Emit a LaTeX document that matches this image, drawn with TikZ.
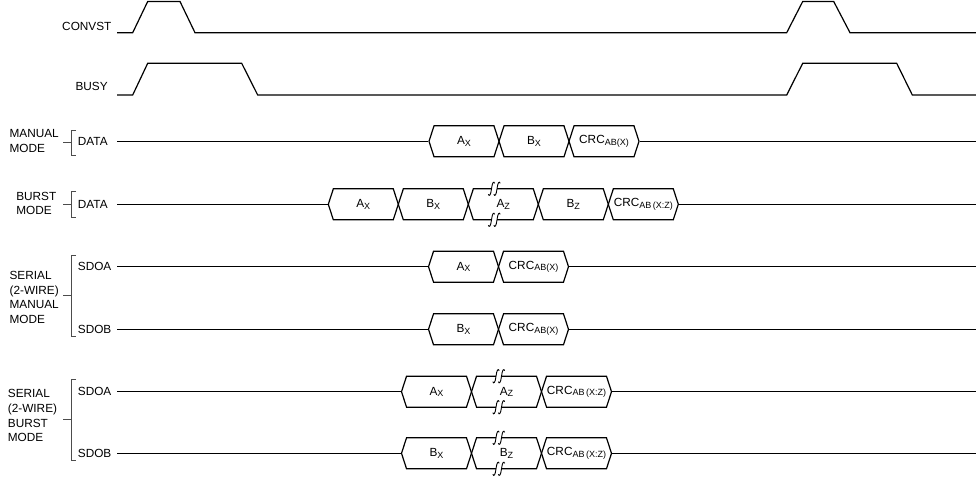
\documentclass[tikz,border=0pt]{standalone}
\usepackage{fontspec}
\setmainfont{Liberation Sans}
\usetikzlibrary{shapes.symbols}
\newcommand{\sx}[1]{\raisebox{-1.5pt}{\fontsize{9}{9}\selectfont #1}}

\begin{document}
\begin{tikzpicture}[x=1pt, y=-1pt, line width=1.2pt,
  every node/.style={font=\fontsize{11.8}{14.8}\selectfont, inner sep=0pt},
  seg/.style={signal, signal to=east and west, signal pointer angle=144, draw, minimum height=31pt, minimum width=70pt},
  lbl/.style={anchor=east},
  sig/.style={anchor=west},
  grp/.style={align=left, anchor=west},
  brace/.style={draw=black!70, line width=1pt},
  brk/.pic={
    \fill[white] (0,-2) rectangle (5.5,2);
    \foreach \d in {0,5.5}
      \draw[line width=0.9pt] (\d-3.2,5.5) .. controls (\d-2.2,8) and (\d-0.8,6.5) .. (\d,0) .. controls (\d+0.8,-6.5) and (\d+2.2,-8) .. (\d+3.2,-5.5);
  }]
\useasboundingbox (0,0) rectangle (976,476);

% CONVST
\node[lbl] (convst) at (112,26) {CONVST};
\draw (117,32.7) -- (132.7,32.7) -- (147.7,1.5) -- (180,1.5) -- (195,32.7) -- (786.7,32.7) -- (802.7,1.5) -- (833.7,1.5) -- (850,32.7) -- (976,32.7);

% BUSY
\node[lbl] (busy) at (108.3,86) {BUSY};
\draw (117,95) -- (132.7,95) -- (147.7,63.3) -- (241.7,63.3) -- (257.7,95) -- (786.7,95) -- (802.7,63.3) -- (896.7,63.3) -- (912.3,95) -- (976,95);

% manual mode
\node[grp] (mmode) at (9,141) {MANUAL\\MODE};
\draw[brace] (76,130) -- (71,130) -- (71,155.7) -- (76,155.7);
\draw[brace] (63,142) -- (71,142);
\node[sig] (mdata) at (77.3,141.3) {DATA};
\coordinate (m0) at (117,141.3);
\coordinate (m1) at (976,141.3);
\node[seg] (mAx) at (464,141.3) {A\sx{X}};
\node[seg] (mBx) at (534,141.3) {B\sx{X}};
\node[seg] (mcrc) at (604,141.3) {CRC\sx{AB(X)}};
\draw (m0) -- (mAx.west);
\draw (mcrc.east) -- (m1);

% burst mode
\node[grp] (bmode) at (15.7,203.5) {BURST\\MODE};
\draw[brace] (76,191) -- (71,191) -- (71,217) -- (76,217);
\draw[brace] (63,204) -- (71,204);
\node[sig] (bdata) at (77.3,204.3) {DATA};
\coordinate (b0) at (117,204.3);
\coordinate (b1) at (976,204.3);
\node[seg] (bAx) at (363.3,204.3) {A\sx{X}};
\node[seg] (bBx) at (433.3,204.3) {B\sx{X}};
\node[seg] (bAz) at (503.3,204.3) {A\sx{Z}};
\node[seg] (bBz) at (573.3,204.3) {B\sx{Z}};
\node[seg] (bcrc) at (643.3,204.3) {CRC\sx{AB\,(X:Z)}};
\draw (b0) -- (bAx.west);
\draw (bcrc.east) -- (b1);
\pic at (491.5,188.8) {brk};
\pic at (491.5,219.8) {brk};

% serial (2-wire) manual mode
\node[grp] (smode) at (9,297.5) {SERIAL\\(2-WIRE)\\MANUAL\\MODE};
\draw[brace] (76,255) -- (71,255) -- (71,336.7) -- (76,336.7);
\draw[brace] (63,295.8) -- (71,295.8);
\node[sig] (sa) at (77.3,266.5) {SDOA};
\node[sig] (sb) at (77.3,329.3) {SDOB};
\coordinate (sa0) at (117,266.7);
\coordinate (sa1) at (976,266.7);
\coordinate (sb0) at (117,329.3);
\coordinate (sb1) at (976,329.3);
\node[seg] (saAx) at (463.5,266.7) {A\sx{X}};
\node[seg] (sacrc) at (533.5,266.7) {CRC\sx{AB(X)}};
\node[seg] (sbBx) at (463.5,329.3) {B\sx{X}};
\node[seg] (sbcrc) at (533.5,329.3) {CRC\sx{AB(X)}};
\draw (sa0) -- (saAx.west);
\draw (sacrc.east) -- (sa1);
\draw (sb0) -- (sbBx.west);
\draw (sbcrc.east) -- (sb1);

% serial (2-wire) burst mode
\node[grp] (tmode) at (7.3,415.7) {SERIAL\\(2-WIRE)\\BURST\\MODE};
\draw[brace] (76,379.3) -- (71,379.3) -- (71,460.7) -- (76,460.7);
\draw[brace] (63,419) -- (71,419);
\node[sig] (ta) at (77.3,391.3) {SDOA};
\node[sig] (tb) at (77.3,453) {SDOB};
\coordinate (ta0) at (117,391.7);
\coordinate (ta1) at (976,391.7);
\coordinate (tb0) at (117,453.3);
\coordinate (tb1) at (976,453.3);
\node[seg] (taAx) at (436.5,391.7) {A\sx{X}};
\node[seg] (taAz) at (506.5,391.7) {A\sx{Z}};
\node[seg] (tacrc) at (576.5,391.7) {CRC\sx{AB\,(X:Z)}};
\node[seg] (tbBx) at (436.5,453.3) {B\sx{X}};
\node[seg] (tbBz) at (506.5,453.3) {B\sx{Z}};
\node[seg] (tbcrc) at (576.5,453.3) {CRC\sx{AB\,(X:Z)}};
\draw (ta0) -- (taAx.west);
\draw (tacrc.east) -- (ta1);
\draw (tb0) -- (tbBx.west);
\draw (tbcrc.east) -- (tb1);
\pic at (496,376.2) {brk};
\pic at (496,407.2) {brk};
\pic at (496,437.8) {brk};
\pic at (496,468.8) {brk};

\end{tikzpicture}
\end{document}
